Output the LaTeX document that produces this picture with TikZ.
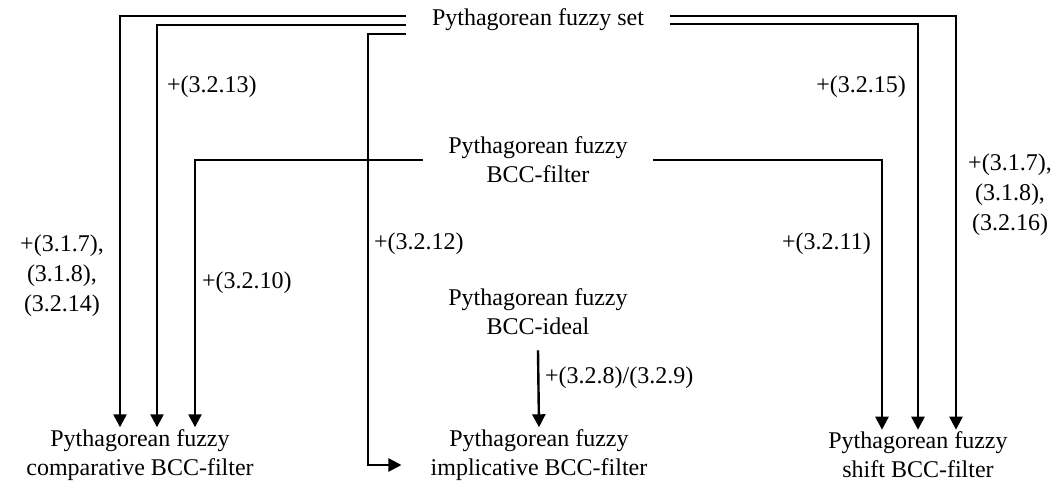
\documentclass[tikz,border=0pt]{standalone}
\usepackage{fontspec}
\setmainfont{Liberation Serif}
\usetikzlibrary{arrows.meta}

\begin{document}
\begin{tikzpicture}[x=0.5pt, y=-0.5pt, line width=1.2pt,
        >={Triangle[length=6.5pt,width=6.5pt]},
        concept/.style={align=center, inner xsep=12pt, inner ysep=3pt,
            font=\fontsize{12}{14.5}\selectfont},
        target/.style={concept, inner ysep=0.5pt},
        rule/.style={inner sep=0pt, align=center,
            font=\fontsize{12}{15}\selectfont}]
        \useasboundingbox (0,0) rectangle (1057,496);

        \node[concept, inner xsep=12.5pt] (set) at (538, 20) {Pythagorean fuzzy set};
        \node[concept] (filter) at (538, 160) {Pythagorean fuzzy\\BCC-filter};
        \node[concept] (ideal) at (538, 312) {Pythagorean fuzzy\\BCC-ideal};

        \node[target] (comp) at (140, 455) {Pythagorean fuzzy\\comparative BCC-filter};
        \node[target] (impl) at (539, 455) {Pythagorean fuzzy\\implicative BCC-filter};
        \node[target] (shift) at (918, 455) {Pythagorean fuzzy\\shift BCC-filter};

        % references
        \node[rule, anchor=center] (r14) at (62, 276) {+(3.1.7),\\(3.1.8),\\(3.2.14)};
        \node[rule, anchor=west] (r13) at (166, 87) {+(3.2.13)};
        \node[rule, anchor=west] (r10) at (201, 283) {+(3.2.10)};
        \node[rule, anchor=west] (r12) at (373, 244) {+(3.2.12)};
        \node[rule, anchor=west] (r89) at (544, 378) {+(3.2.8)/(3.2.9)};
        \node[rule, anchor=east] (r11) at (872, 244) {+(3.2.11)};
        \node[rule, anchor=east] (r15) at (907, 87) {+(3.2.15)};
        \node[rule, anchor=center] (r16) at (1010, 195) {+(3.1.7),\\(3.1.8),\\(3.2.16)};

        \draw[->] ([yshift=2pt]set.west) -| ([xshift=-10pt]comp.north);
        \draw[->] ([yshift=-2.5pt]set.west) -| ([xshift=8.5pt]comp.north);
        \draw[->] ([yshift=-7pt]set.west) -- ++(-19pt, 0) |- ([xshift=-2pt, yshift=-5pt]impl.west);
        \draw[->] (filter.west) -| ([xshift=27.5pt]comp.north);

        \draw[->] ([yshift=2pt]set.east) -| ([xshift=19pt]shift.north);
        \draw[->] ([yshift=-2pt]set.east) -| (shift.north);
        \draw[->] (filter.east) -| ([xshift=-18pt]shift.north);

        \draw[->] ([yshift=-4pt]ideal.south) -- (impl.north);
    \end{tikzpicture}
\end{document}
